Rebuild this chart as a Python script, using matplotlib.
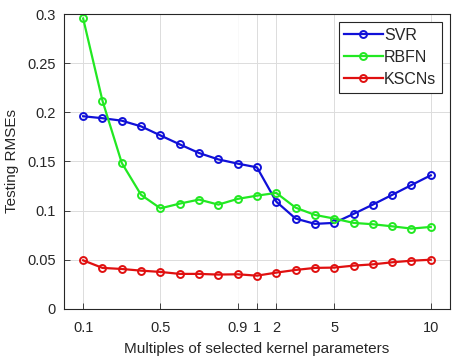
import matplotlib
matplotlib.use("Agg")
import matplotlib.pyplot as plt
import numpy as np

plt.rcParams['font.family'] = ['Liberation Sans', 'DejaVu Sans']

multiples = ['0.1', '0.2', '0.3', '0.4', '0.5', '0.6', '0.7', '0.8', '0.9', '1',
             '2', '3', '4', '5', '6', '7', '8', '9', '10']
svr = [0.196, 0.194, 0.1915, 0.1857, 0.1765, 0.1674, 0.1586, 0.1521, 0.1478, 0.1440,
       0.1091, 0.0919, 0.0865, 0.0875, 0.0966, 0.1061, 0.116, 0.126, 0.1359]
rbfn = [0.2955, 0.2118, 0.1485, 0.116, 0.1023, 0.1071, 0.1112, 0.1061, 0.1119, 0.1152,
        0.118, 0.103, 0.0956, 0.0919, 0.0875, 0.0861, 0.084, 0.0817, 0.0834]
kscn = [0.0494, 0.0417, 0.0406, 0.0389, 0.0376, 0.0356, 0.0356, 0.0349, 0.0352, 0.0338,
        0.0369, 0.0396, 0.0417, 0.042, 0.044, 0.0453, 0.0474, 0.049, 0.050]
tick_labels = ['0.1', '0.5', '0.9', '1', '2', '5', '10']
y_ticks = [0, 0.05, 0.1, 0.15, 0.2, 0.25, 0.3]
y_tick_labels = ['0', '0.05', '0.1', '0.15', '0.2', '0.25', '0.3']

x = np.arange(1, len(multiples) + 1)
tick_pos = [multiples.index(t) + 1 for t in tick_labels]

fig = plt.figure(figsize=(4.56, 3.6), dpi=100)
ax = fig.add_axes([0.140, 0.142, 0.847, 0.819])

tc = '#262626'
style = dict(lw=1.6, marker='o', ms=5, mfc='none', mew=1.4)
ax.plot(x, svr, color='#1010d8', label='SVR', **style)
ax.plot(x, rbfn, color='#22e822', label='RBFN', **style)
ax.plot(x, kscn, color='#e01010', label='KSCNs', **style)

ax.set_xlim(0, 20)
ax.set_ylim(0, 0.3)
ax.set_xticks(tick_pos)
ax.set_xticklabels(tick_labels)
ax.set_yticks(y_ticks)
ax.set_yticklabels(y_tick_labels)
ax.tick_params(direction='in', length=4, width=0.6, colors=tc, labelsize=10.5, pad=6)
ax.tick_params(axis='x', pad=9)

for p, lab in zip(tick_pos, tick_labels):
    alpha = 0.15 if lab == '0.9' else 1.0
    ax.axvline(p, color='#dcdcdc', lw=0.7, zorder=0, alpha=alpha)
for yv in y_ticks:
    ax.axhline(yv, color='#dcdcdc', lw=0.7, zorder=0)

for s in ax.spines.values():
    s.set_linewidth(0.8)
    s.set_color(tc)

ax.set_xlabel('Multiples of selected kernel parameters', fontsize=11, color=tc, labelpad=5)
ax.set_ylabel('Testing RMSEs', fontsize=11, color=tc, labelpad=6)

leg = ax.legend(loc='upper right', fontsize=11.5, handlelength=2.4, handletextpad=0.1,
                borderpad=0.35, labelspacing=0.45, fancybox=False, framealpha=1,
                edgecolor='#262626', borderaxespad=0.5)
leg.get_frame().set_linewidth(0.8)
for t in leg.get_texts():
    t.set_color(tc)

fig.savefig('out.png', dpi=100)
